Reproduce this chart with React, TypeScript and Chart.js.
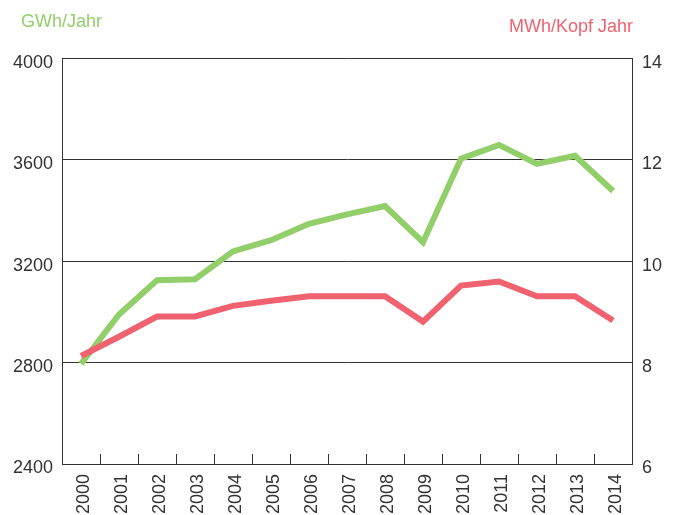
import React, { useEffect, useRef } from "react";
import { Chart, registerables } from "chart.js";

Chart.register(...registerables);

const years = ["2000", "2001", "2002", "2003", "2004", "2005", "2006", "2007", "2008", "2009", "2010", "2011", "2012", "2013", "2014"];
const gwhPerYear = [2795, 2990, 3125, 3129, 3239, 3283, 3348, 3385, 3418, 3275, 3605, 3659, 3584, 3616, 3477];
const mwhPerHead = [8.13, 8.51, 8.91, 8.91, 9.12, 9.22, 9.31, 9.31, 9.31, 8.81, 9.52, 9.6, 9.31, 9.31, 8.83];
const leftTitle = "GWh/Jahr";
const rightTitle = "MWh/Kopf Jahr";

const GREEN = "#92cf6a";
const RED = "#f0626f";
const AXIS = "#333333";
const FONT = "'Liberation Sans', Arial, Helvetica, sans-serif";

const decorPlugin = {
  id: "decor",
  afterDraw(chart: any) {
    const ctx = chart.ctx;
    const xs = chart.scales.x;
    const area = chart.chartArea;
    ctx.save();
    // inner tick marks between categories
    ctx.strokeStyle = AXIS;
    ctx.lineWidth = 1;
    for (let i = 1; i < years.length; i++) {
      const x = Math.round((xs.getPixelForTick(i - 1) + xs.getPixelForTick(i)) / 2) + 0.5;
      ctx.beginPath();
      ctx.moveTo(x, area.bottom - 10);
      ctx.lineTo(x, area.bottom);
      ctx.stroke();
    }
    // titles
    ctx.font = `18px ${FONT}`;
    ctx.textBaseline = "alphabetic";
    ctx.fillStyle = GREEN;
    ctx.textAlign = "left";
    ctx.fillText(leftTitle, 21, 26.5);
    ctx.fillStyle = RED;
    ctx.textAlign = "right";
    ctx.fillText(rightTitle, 633, 32);
    ctx.restore();
  },
};

export default function App() {
  const ref = useRef<HTMLCanvasElement>(null);
  useEffect(() => {
    if (!ref.current) return;
    const chart = new Chart(ref.current, {
      type: "line",
      data: {
        labels: years,
        datasets: [
          {
            label: rightTitle,
            data: mwhPerHead,
            yAxisID: "y1",
            borderColor: RED,
            backgroundColor: RED,
            borderWidth: 6,
            pointRadius: 0,
            tension: 0,
            borderCapStyle: "butt",
            borderJoinStyle: "miter",
            order: 0,
          },
          {
            label: leftTitle,
            data: gwhPerYear,
            yAxisID: "y",
            borderColor: GREEN,
            backgroundColor: GREEN,
            borderWidth: 6,
            pointRadius: 0,
            tension: 0,
            borderCapStyle: "butt",
            borderJoinStyle: "miter",
            order: 1,
          },
        ],
      },
      options: {
        animation: false,
        responsive: false,
        devicePixelRatio: 1,
        layout: { padding: { top: 58.5, left: 0, right: 0, bottom: 0 } },
        plugins: {
          legend: { display: false },
          tooltip: { enabled: false },
          title: { display: false },
        },
        scales: {
          x: {
            offset: true,
            grid: { display: false, drawTicks: false },
            border: { display: true, color: AXIS, width: 1 },
            ticks: {
              autoSkip: false,
              minRotation: 90,
              maxRotation: 90,
              padding: 10,
              labelOffset: 3,
              color: AXIS,
              font: { family: FONT, size: 18 },
            },
            afterFit(scale: any) {
              scale.height = 51;
            },
          },
          y: {
            position: "left",
            min: 2400,
            max: 4000,
            ticks: {
              stepSize: 400,
              padding: 9,
              labelOffset: 4.5,
              color: AXIS,
              font: { family: FONT, size: 18 },
              callback: (v: any) => String(v),
            },
            grid: { color: AXIS, lineWidth: 1, drawTicks: false },
            border: { display: true, color: AXIS, width: 1 },
            afterFit(scale: any) {
              scale.width = 62;
            },
          },
          y1: {
            position: "right",
            min: 6,
            max: 14,
            ticks: {
              stepSize: 2,
              padding: 10,
              labelOffset: 4.5,
              color: AXIS,
              font: { family: FONT, size: 18 },
              callback: (v: any) => String(v),
            },
            grid: { drawOnChartArea: false, drawTicks: false },
            border: { display: true, color: AXIS, width: 1 },
            afterFit(scale: any) {
              scale.width = 46;
            },
          },
        },
      },
      plugins: [decorPlugin],
    } as any);
    return () => chart.destroy();
  }, []);
  return (
    <div style={{ position: "absolute", left: 0, top: 0, width: 678, height: 515, background: "#fff" }}>
      <canvas ref={ref} width={678} height={515} style={{ display: "block" }} />
    </div>
  );
}
